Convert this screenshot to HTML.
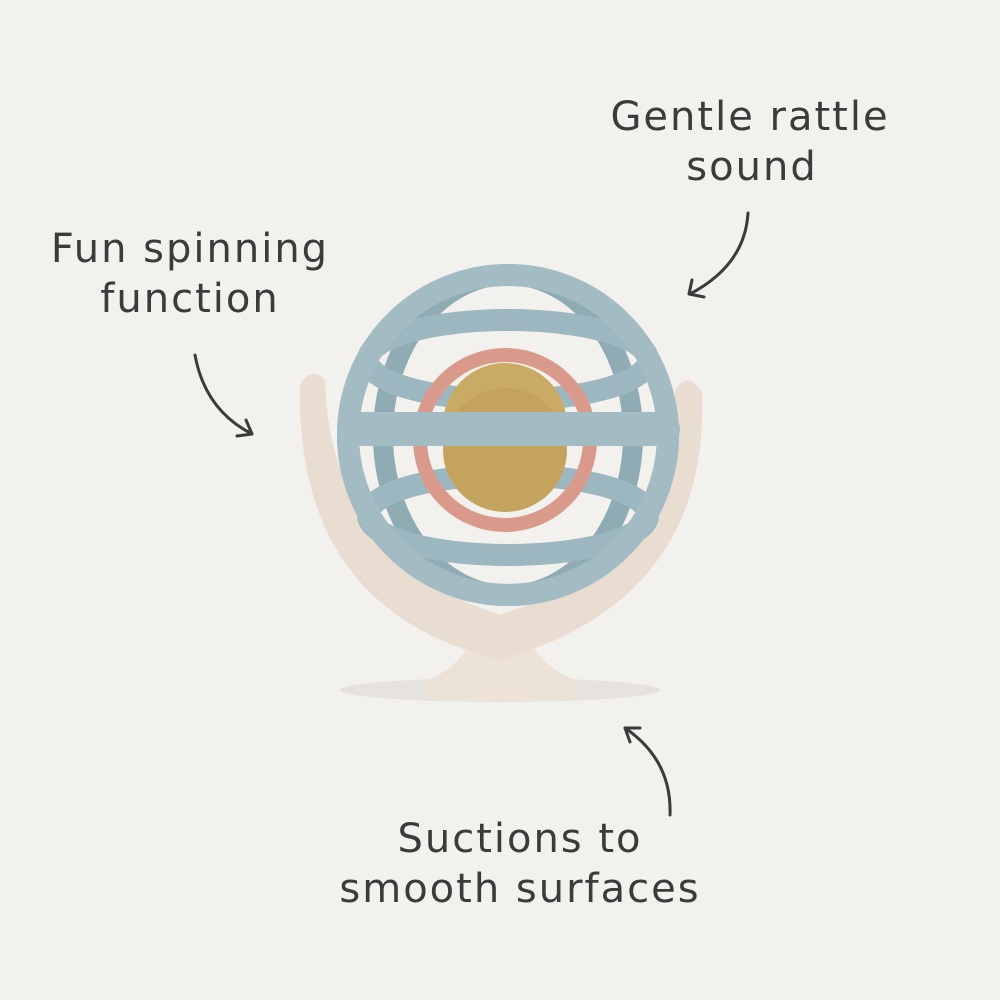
<!DOCTYPE html>
<html><head><meta charset="utf-8"><style>
html,body{margin:0;padding:0;background:#f3f1ed;}
svg{display:block}
text{font-family:"DejaVu Sans","Liberation Sans",sans-serif;fill:#3b3b3b;font-size:40px;letter-spacing:2px;text-anchor:middle}
</style></head><body>
<svg width="1000" height="1000" viewBox="0 0 1000 1000" xmlns="http://www.w3.org/2000/svg">
<rect width="1000" height="1000" fill="#f3f1ed"/>
<text x="750" y="130">Gentle rattle</text>
<text x="752" y="180">sound</text>
<text x="190" y="262">Fun spinning</text>
<text x="190" y="312">function</text>
<text x="520" y="852">Suctions to</text>
<text x="520" y="902">smooth surfaces</text>
<g fill="none" stroke="#3b3b3b" stroke-width="3" stroke-linecap="round" stroke-linejoin="round">
<path d="M748 213 Q745 265 690 294"/><path d="M692 280 L689 294 L704 297"/>
<path d="M195 355 Q205 410 252 434"/><path d="M237 436 L252 434 L246 420"/>
<path d="M670 815 Q672 760 625 728"/><path d="M640 728 L625 728 L630 742"/>
</g>
<!-- shadow -->
<ellipse cx="500" cy="690" rx="160" ry="12" fill="#e6e3de"/>
<!-- suction cup -->
<path d="M470 640 L530 640 Q540 665 575 680 Q582 698 565 700 L438 700 Q420 698 428 680 Q462 665 470 640Z" fill="#ece2d8"/>
<!-- stand crescent -->
<path d="M300 385 Q312 365 325 380 Q330 560 500 615 Q670 560 675 390 Q688 370 702 392 Q710 600 500 660 Q295 610 300 385Z" fill="#e9ddd2"/>
<!-- sphere rings -->
<g fill="none" stroke="#9db7c0" stroke-linecap="round">
<ellipse cx="508" cy="435" rx="160" ry="160" stroke-width="22"/>
<ellipse cx="508" cy="435" rx="125" ry="160" stroke-width="20" stroke="#8fabb3"/>
<ellipse cx="508" cy="360" rx="140" ry="40" stroke-width="22"/>
<ellipse cx="508" cy="515" rx="140" ry="40" stroke-width="22"/>
</g>
<circle cx="505" cy="440" r="85" fill="none" stroke="#d99a8c" stroke-width="14"/>
<circle cx="505" cy="425" r="62" fill="#c9ab66"/>
<circle cx="505" cy="450" r="62" fill="#c4a35e"/>
<rect x="340" y="412" width="340" height="34" rx="17" fill="#a3bcc4"/>
<ellipse cx="508" cy="435" rx="160" ry="160" fill="none" stroke="#a3bcc4" stroke-width="22"/>
</svg>
</body></html>
